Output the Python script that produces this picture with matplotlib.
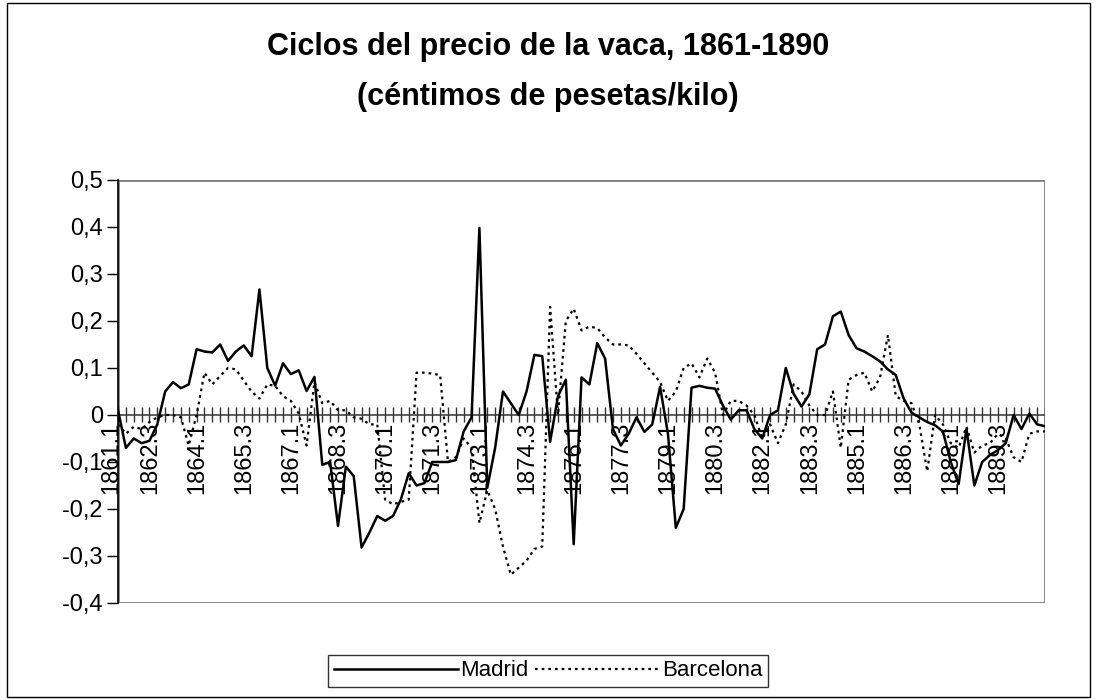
import numpy as np
import matplotlib
matplotlib.use("Agg")
import matplotlib.pyplot as plt
from matplotlib.patches import Rectangle

plt.rcParams["font.family"] = ["Liberation Sans", "DejaVu Sans"]

# quarterly cycle values, 1861.1 - 1890.3
madrid = [0.01, -0.07, -0.05, -0.06, -0.055, -0.02, 0.05, 0.07, 0.057, 0.065,
          0.14, 0.135, 0.133, 0.15, 0.115, 0.135, 0.148, 0.125, 0.267, 0.1,
          0.0625, 0.11, 0.087, 0.095, 0.051, 0.081, -0.106, -0.1, -0.236, -0.11,
          -0.13, -0.282, -0.25, -0.215, -0.225, -0.215, -0.18, -0.124, -0.15, -0.145,
          -0.1, -0.1, -0.1, -0.096, -0.035, -0.005, 0.398, -0.155, -0.07, 0.05,
          0.025, 0.0, 0.05, 0.128, 0.125, -0.057, 0.04, 0.075, -0.275, 0.08,
          0.065, 0.153, 0.12, -0.03, -0.065, -0.04, -0.005, -0.036, -0.02, 0.06,
          -0.04, -0.24, -0.2, 0.058, 0.062, 0.058, 0.056, 0.02, -0.01, 0.01,
          0.01, -0.03, -0.05, 0.0, 0.01, 0.1, 0.045, 0.018, 0.044, 0.14,
          0.15, 0.21, 0.22, 0.17, 0.142, 0.135, 0.125, 0.114, 0.097, 0.085,
          0.035, 0.005, -0.005, -0.015, -0.022, -0.035, -0.1, -0.147, -0.03, -0.15,
          -0.1, -0.085, -0.075, -0.06, 0.0, -0.03, 0.003, -0.02, -0.024]

barcelona = [-0.02, -0.04, -0.025, -0.03, -0.015, -0.005, 0.0, 0.0, -0.005, -0.065,
             0.0, 0.09, 0.065, 0.083, 0.1, 0.097, 0.073, 0.05, 0.035, 0.065,
             0.062, 0.04, 0.03, 0.003, -0.065, 0.07, 0.025, 0.03, 0.01, 0.01,
             -0.005, -0.008, -0.02, -0.02, -0.18, -0.19, -0.185, -0.18, 0.09, 0.09,
             0.088, 0.085, -0.1, -0.09, -0.05, -0.07, -0.23, -0.16, -0.2, -0.28,
             -0.34, -0.325, -0.31, -0.285, -0.28, 0.23, 0.0, 0.2, 0.226, 0.18,
             0.188, 0.185, 0.165, 0.15, 0.15, 0.148, 0.13, 0.11, 0.09, 0.07,
             0.03, 0.05, 0.1, 0.11, 0.08, 0.12, 0.09, 0.0, 0.03, 0.03,
             0.02, 0.0, -0.05, -0.02, -0.06, -0.02, 0.065, 0.05, 0.02, 0.0,
             0.0, 0.05, -0.07, 0.075, 0.085, 0.09, 0.05, 0.08, 0.17, 0.04,
             0.03, 0.025, -0.02, -0.12, 0.0, -0.02, -0.06, -0.07, -0.025, -0.08,
             -0.065, -0.06, -0.04, -0.05, -0.09, -0.1, -0.04, -0.035, -0.035]

tick_labels = ["1861.1", "1862.3", "1864.1", "1865.3", "1867.1", "1868.3", "1870.1",
               "1871.3", "1873.1", "1874.3", "1876.1", "1877.3", "1879.1", "1880.3",
               "1882.1", "1883.3", "1885.1", "1886.3", "1888.1", "1889.3"]

x = np.arange(len(madrid))

fig = plt.figure(figsize=(10.96, 7), dpi=100)
ax = fig.add_axes([0.1077, 0.1386, 0.8458, 0.6043])

ax.plot(x, madrid, color="black", lw=1.8, label="Madrid")
ax.plot(x, barcelona, color="black", lw=1.6, ls=(0, (1.2, 1.8)), label="Barcelona")

ax.set_xlim(0, len(madrid) - 1)
ax.set_ylim(-0.4, 0.5)

# plot area frame (grey) + black value axis
for s in ["top", "right", "bottom"]:
    ax.spines[s].set_visible(False)
ax.add_patch(Rectangle((0, 0), 1, 1, transform=ax.transAxes, fill=False,
                       edgecolor="#808080", lw=2, zorder=0.5))
ax.spines["left"].set_color("black")
ax.spines["left"].set_linewidth(1.2)

yt = np.round(np.arange(-0.4, 0.51, 0.1), 1)
ax.set_yticks(yt)
ax.set_yticklabels(["0" if v == 0 else ("%.1f" % v).replace(".", ",") for v in yt],
                   fontsize=17)
ax.tick_params(axis="y", direction="out", length=8, width=1, pad=3)

# category axis crossing at zero
ax.axhline(0, color="#444444", lw=1.2, zorder=1)
ax.set_xticks(x)
ax.set_xticklabels([])
ax.tick_params(axis="x", length=0)
ax.vlines(x, -0.016, 0.016, color="#333333", lw=1, zorder=1)

for k, lab in enumerate(tick_labels):
    off = -5 if k == 0 else -11
    ax.annotate(lab, xy=(k * 6, 0), xycoords="data", xytext=(off, -5),
                textcoords="offset points", rotation=90, ha="center", va="top",
                fontsize=17, annotation_clip=False)

fig.text(0.5, 1 - 47 / 700, "Ciclos del precio de la vaca, 1861-1890",
         ha="center", va="center", fontsize=22, fontweight="bold")
fig.text(0.5, 1 - 97 / 700, "(céntimos de pesetas/kilo)",
         ha="center", va="center", fontsize=22, fontweight="bold")

leg = fig.legend(loc="center", bbox_to_anchor=(548 / 1096, 1 - 671 / 700), ncol=2,
                 fontsize=16, frameon=True, fancybox=False, handlelength=5.6,
                 handletextpad=0.1, columnspacing=0.3, borderpad=0.25)
leg.get_frame().set_edgecolor("black")
leg.get_frame().set_linewidth(1)

fig.patches.append(Rectangle((7 / 1096, 3 / 700), 1083 / 1096, 694 / 700,
                             transform=fig.transFigure, fill=False,
                             edgecolor="black", lw=1))

fig.savefig("out.png", dpi=100)
